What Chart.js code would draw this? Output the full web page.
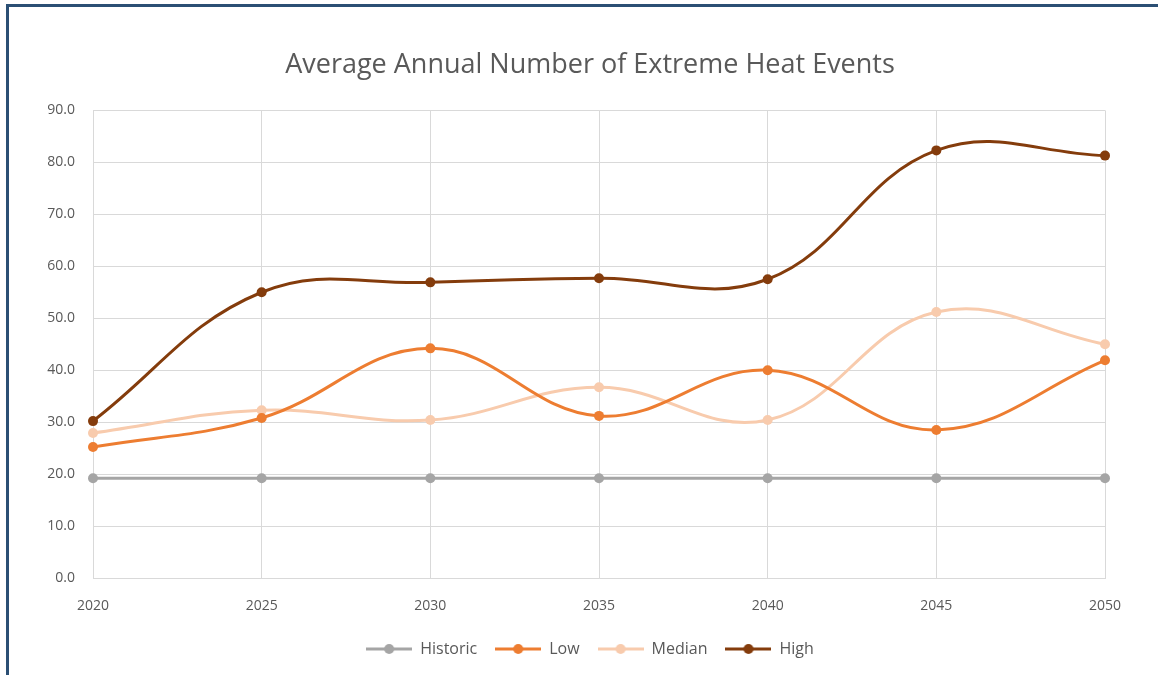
<!DOCTYPE html>
<html>
<head>
<meta charset="utf-8">
<script src="https://cdn.jsdelivr.net/npm/chart.js@4.4.1/dist/chart.umd.min.js"></script>
<style>
  html, body { margin: 0; padding: 0; background: #fff; }
  #wrap { position: relative; width: 1158px; height: 675px; overflow: hidden; }
  #frame { position: absolute; left: 6px; top: 4px; width: 1200px; height: 720px; border: 3px solid #2b4f74; box-sizing: border-box; }
  canvas { position: absolute; left: 0; top: 0; }
</style>
</head>
<body>
<div id="wrap">
  <div id="frame"></div>
  <canvas id="c" width="1158" height="675"></canvas>
</div>
<script>
const years = ['2020', '2025', '2030', '2035', '2040', '2045', '2050'];
const historic = [19.2, 19.2, 19.2, 19.2, 19.2, 19.2, 19.2];
const low = [25.2, 30.8, 44.2, 31.2, 40.0, 28.5, 41.9];
const median = [27.9, 32.3, 30.4, 36.7, 30.4, 51.2, 45.0];
const high = [30.2, 55.0, 56.9, 57.7, 57.5, 82.3, 81.3];
const seriesNames = ['Historic', 'Low', 'Median', 'High'];
const seriesColors = ['#a5a5a5', '#ed7d31', '#f8cbad', '#843c0c'];
const yMin = 0, yMax = 90, yStep = 10;

const FONT = "'Open Sans', 'Liberation Sans', sans-serif";
const TXT = '#595959';

function legendIcon(color) {
  const c = document.createElement('canvas');
  c.width = 46; c.height = 12;
  const g = c.getContext('2d');
  g.strokeStyle = color; g.lineWidth = 3;
  g.beginPath(); g.moveTo(0, 6); g.lineTo(46, 6); g.stroke();
  g.fillStyle = color;
  g.beginPath(); g.arc(23, 6, 5, 0, Math.PI * 2); g.fill();
  return c;
}
const icons = seriesColors.map(legendIcon);

const dataSets = [historic, low, median, high].map((d, i) => ({
  label: seriesNames[i],
  data: d,
  yAxisID: 'y',
  borderColor: seriesColors[i],
  backgroundColor: seriesColors[i],
  borderWidth: 3,
  pointRadius: 5,
  pointHoverRadius: 5,
  pointBorderWidth: 0,
  tension: 0.4,
  fill: false
}));

new Chart(document.getElementById('c'), {
  type: 'line',
  data: { labels: years, datasets: dataSets },
  options: {
    responsive: false,
    animation: false,
    devicePixelRatio: 1,
    layout: { padding: { left: 22, right: 0, top: 0, bottom: 8 } },
    plugins: {
      title: {
        display: true,
        text: 'Average Annual Number of Extreme Heat Events',
        color: TXT,
        font: { family: FONT, size: 27, weight: 'normal' },
        padding: { top: 49, bottom: 29 }
      },
      legend: {
        position: 'bottom',
        labels: {
          usePointStyle: true,
          pointStyleWidth: 46,
          boxHeight: 12,
          color: TXT,
          font: { family: FONT, size: 16 },
          padding: 18,
          generateLabels: (chart) => chart.data.datasets.map((ds, i) => ({
            text: ds.label,
            fontColor: TXT,
            pointStyle: icons[i],
            datasetIndex: i,
            hidden: false,
            lineWidth: 0,
            strokeStyle: 'transparent',
            fillStyle: 'transparent'
          }))
        }
      },
      tooltip: { enabled: false }
    },
    scales: {
      x: {
        offset: false,
        grid: { color: '#d9d9d9', lineWidth: 1, drawTicks: false },
        border: { color: '#d9d9d9' },
        ticks: { color: TXT, font: { family: FONT, size: 14 }, padding: 20, maxRotation: 0 },
        afterFit: (s) => { s.height = 45; }
      },
      y: {
        position: 'left',
        min: yMin, max: yMax,
        grid: { color: '#d9d9d9', lineWidth: 1, drawTicks: false },
        border: { color: '#d9d9d9' },
        ticks: {
          stepSize: yStep, color: TXT, font: { family: FONT, size: 14 }, padding: 18,
          callback: (v) => Number(v).toFixed(1)
        },
        afterFit: (s) => { s.width = 71; }
      },
      yRight: {
        position: 'right',
        display: true,
        min: yMin, max: yMax,
        grid: { display: false },
        border: { display: false },
        ticks: { display: false },
        afterFit: (s) => { s.width = 53; }
      }
    }
  }
});
</script>
</body>
</html>
